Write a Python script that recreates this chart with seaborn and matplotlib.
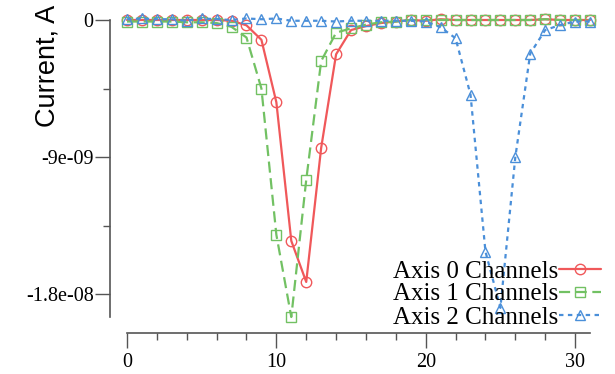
import numpy as np
import pandas as pd
import matplotlib
matplotlib.use("Agg")
import matplotlib.pyplot as plt
import seaborn as sns
from matplotlib.ticker import FixedLocator

# ---- data (units of 1e-9 A) ----
channels = list(range(32))
axis0 = [0.0, 0.0, 0.0, 0.0, 0.0, 0.0, 0.0, -0.05, -0.35, -1.3, -5.4, -14.5, -17.2, -8.4, -2.25, -0.66,
         -0.4, -0.2, -0.1, 0.0, -0.05, 0.05, 0.0, 0.0, 0.0, 0.0, 0.0, 0.0, 0.05, 0.0, 0.0, 0.0]
axis1 = [-0.1, -0.1, -0.1, -0.1, -0.15, -0.15, -0.2, -0.45, -1.15, -4.5, -14.1, -19.5, -10.5, -2.7, -0.83, -0.55,
         -0.3, -0.15, -0.1, 0.0, 0.0, 0.0, 0.0, 0.0, 0.0, 0.0, 0.0, 0.0, 0.05, 0.0, 0.0, 0.0]
axis2 = [0.05, 0.1, 0.05, 0.05, -0.05, 0.1, 0.05, 0.0, 0.1, 0.05, 0.1, -0.05, -0.05, -0.05, -0.1, -0.05,
         -0.05, -0.05, -0.05, -0.05, -0.1, -0.48, -1.2, -4.9, -15.2, -18.9, -9.0, -2.2, -0.66, -0.33, -0.1, -0.1]
labels = ["Axis 0 Channels", "Axis 1 Channels", "Axis 2 Channels"]
ytick_vals = [0, -9e-09, -1.8e-08]
ytick_labels = ["0", "-9e-09", "-1.8e-08"]
xtick_vals = [0, 10, 20, 30]

colors = ["#F0585A", "#72C163", "#4A8FD9"]
markers = ["o", "s", "^"]
linestyles = ["-", (0, (5, 2.5)), (0, (2, 2))]

sns.set_theme(style="ticks")
plt.rcParams["font.family"] = ["Liberation Serif", "DejaVu Serif"]

fig = plt.figure(figsize=(6.15, 3.74), dpi=100)
ax = fig.add_axes([127 / 615, 1 - 317 / 374, (590 - 127) / 615, (317 - 20) / 374])

series = [axis0, axis1, axis2]
for vals, lab, c, m, ls in zip(series, labels, colors, markers, linestyles):
    df = pd.DataFrame({"x": channels, "y": np.array(vals) * 1e-9})
    sns.lineplot(data=df, x="x", y="y", ax=ax, color=c, marker=m, linestyle=ls,
                 markersize=7.5, markerfacecolor="none", markeredgecolor=c,
                 markeredgewidth=1.0, linewidth=1.6, label=lab, clip_on=False)

ax.set_xlim(0, 31)
ax.set_ylim(-1.95e-08, 0)
ax.set_xlabel("")
ax.set_ylabel("")

ax.set_yticks(ytick_vals)
ax.set_yticklabels(ytick_labels)
ax.yaxis.set_minor_locator(FixedLocator([-4.5e-09, -1.35e-08]))
ax.set_xticks(xtick_vals)
ax.set_xticklabels([str(v) for v in xtick_vals])
ax.xaxis.set_minor_locator(FixedLocator([v for v in range(0, 32, 2) if v % 10 != 0]))

spine_color = "#555555"
for side in ["top", "right"]:
    ax.spines[side].set_visible(False)
ax.spines["left"].set_position(("outward", 12))
ax.spines["bottom"].set_position(("outward", 11.5))
for side in ["left", "bottom"]:
    ax.spines[side].set_color(spine_color)
    ax.spines[side].set_linewidth(1.2)

ax.tick_params(axis="both", which="major", direction="out", length=10.5, width=1.0,
               color=spine_color, labelsize=14.5, labelcolor="black")
ax.tick_params(axis="both", which="minor", direction="out", length=5, width=1.0, color=spine_color)
ax.tick_params(axis="y", which="major", pad=1.5)
ax.tick_params(axis="x", which="major", pad=4)
for t in ax.get_xticklabels() + ax.get_yticklabels():
    t.set_fontfamily(["Liberation Serif", "DejaVu Serif"])

fig.text(48 / 615, 1 - 66 / 374, "Current, A", rotation=90, ha="center", va="center",
         fontsize=19.5, family=["Liberation Sans", "DejaVu Sans"], color="black")

leg = ax.legend(loc="lower right", bbox_to_anchor=(601 / 615, 1 - 328.5 / 374),
                bbox_transform=fig.transFigure, frameon=False, markerfirst=False,
                prop={"family": ["Liberation Serif", "DejaVu Serif"], "size": 18},
                handlelength=1.7, handletextpad=0.0, labelspacing=0.02, borderpad=0.0,
                borderaxespad=0.0)
for t in leg.get_texts():
    t.set_color("black")

fig.savefig("out.png", dpi=100)
